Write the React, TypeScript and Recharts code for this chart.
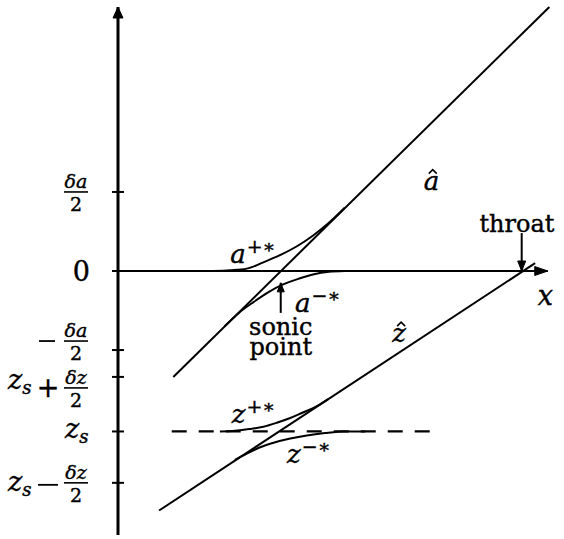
import React from 'react';
import { ComposedChart, Line, Scatter, XAxis, YAxis } from 'recharts';

const WIDTH = 564;
const HEIGHT = 539;
const SERIF = "'DejaVu Serif', 'Liberation Serif', serif";
const INK = '#000';

// Chart units: x runs along the flow, y holds both the a-profile and the z-profile.
const X_DOMAIN: [number, number] = [0, 5.5];
const Y_DOMAIN: [number, number] = [-3.34, 3.34];

// Axes drawn as arrows
const yAxisLine = [{ x: 0, y: -3.34 }, { x: 0, y: 3.34 }];
const xAxisLine = [{ x: 0, y: 0 }, { x: 5.44, y: 0 }];

// Straight asymptotes â and ẑ
const aHat = [{ x: 0.70, y: -1.34 }, { x: 5.46, y: 3.34 }];
const zHat = [{ x: 0.52, y: -3.03 }, { x: 5.28, y: 0.10 }];

// Branches near the sonic point
const aPlus = [
  { x: 1.20, y: 0 }, { x: 1.42, y: 0.01 }, { x: 1.63, y: 0.03 }, { x: 1.84, y: 0.11 },
  { x: 2.05, y: 0.20 }, { x: 2.26, y: 0.31 }, { x: 2.47, y: 0.45 }, { x: 2.67, y: 0.61 },
  { x: 2.87, y: 0.80 },
];
const aMinus = [
  { x: 1.35, y: -0.70 }, { x: 1.53, y: -0.53 }, { x: 1.72, y: -0.39 }, { x: 1.90, y: -0.27 },
  { x: 2.09, y: -0.17 }, { x: 2.28, y: -0.10 }, { x: 2.48, y: -0.04 }, { x: 2.67, y: -0.01 },
  { x: 2.87, y: 0 },
];
const zPlus = [
  { x: 1.29, y: -2.03 }, { x: 1.48, y: -2.02 }, { x: 1.66, y: -2.00 }, { x: 1.84, y: -1.97 },
  { x: 2.01, y: -1.92 }, { x: 2.18, y: -1.86 }, { x: 2.34, y: -1.79 }, { x: 2.50, y: -1.72 },
  { x: 2.66, y: -1.62 },
];
const zMinus = [
  { x: 1.48, y: -2.39 }, { x: 1.63, y: -2.31 }, { x: 1.80, y: -2.23 }, { x: 1.98, y: -2.17 },
  { x: 2.18, y: -2.12 }, { x: 2.39, y: -2.08 }, { x: 2.62, y: -2.05 }, { x: 2.87, y: -2.03 },
  { x: 3.13, y: -2.03 },
];

// Dashed level z = z_s
const zsLevel = [{ x: 0.68, y: -2.03 }, { x: 3.95, y: -2.03 }];

// Pointer arrows
const sonicArrow = [{ x: 2.06, y: -0.53 }, { x: 2.06, y: -0.15 }];
const throatArrow = [{ x: 5.11, y: 0.48 }, { x: 5.11, y: 0 }];

// y-axis ticks and their labels
const yTicks = [1, 0, -1, -1.34, -2.03, -2.68];
const yTickKinds = ['halfA', 'zero', 'minusHalfA', 'zsPlus', 'zs', 'zsMinus'];
const yTickShift = [0, 0, -9, 11, 0, 0];

// Text placed on the plot
const branchLabels = [
  { x: 1.42, y: 0.10, base: 'a', sup: '+∗' },
  { x: 2.24, y: -0.52, base: 'a', sup: '−∗' },
  { x: 1.44, y: -1.92, base: 'z', sup: '+∗' },
  { x: 2.14, y: -2.43, base: 'z', sup: '−∗' },
];
const hatLabels = [
  { x: 3.87, y: 1.03, base: 'a' },
  { x: 3.47, y: -0.90, base: 'z' },
];
const wordLabels = [
  { x: 2.06, y: -0.81, text: 'sonic' },
  { x: 2.06, y: -1.06, text: 'point' },
  { x: 5.05, y: 0.49, text: 'throat' },
];
const axisNames = [{ x: 5.41, y: -0.43, text: 'x' }];

type Dir = 'up' | 'down' | 'right';

function arrowPath(cx: number, cy: number, dir: Dir, len: number, half: number) {
  if (dir === 'up') return `M${cx},${cy} L${cx - half},${cy + len} L${cx + half},${cy + len} Z`;
  if (dir === 'down') return `M${cx},${cy} L${cx - half},${cy - len} L${cx + half},${cy - len} Z`;
  return `M${cx},${cy} L${cx - len},${cy - half} L${cx - len},${cy + half} Z`;
}

function arrowTip(lastIndex: number, dir: Dir, len: number, half: number) {
  return (props: any) => {
    const { cx, cy, index } = props;
    if (index !== lastIndex) return <g key={`n${index}`} />;
    return <path key={`tip${index}`} d={arrowPath(cx, cy, dir, len, half)} fill={INK} stroke={INK} strokeWidth={1} />;
  };
}

// Serif text, slightly thickened with a hairline outline
const serif = { fontFamily: SERIF, stroke: INK, strokeWidth: 0.4 };

function Frac({ cx, cy, num, den }: { cx: number; cy: number; num: string; den: string }) {
  return (
    <g>
      <text x={cx} y={cy - 4} textAnchor="middle" style={serif} fontStyle="italic" fontSize={19} fill={INK}>
        {num}
      </text>
      <line x1={cx - 12} x2={cx + 12} y1={cy} y2={cy} stroke={INK} strokeWidth={1.6} />
      <text x={cx} y={cy + 19} textAnchor="middle" style={serif} fontSize={19} fill={INK}>
        {den}
      </text>
    </g>
  );
}

function Zs({ x, y }: { x: number; y: number }) {
  return (
    <text x={x} y={y} style={serif} fontStyle="italic" fontSize={27} fill={INK}>
      z<tspan fontSize={18} dy={5}>s</tspan>
    </text>
  );
}

function YTick(props: any) {
  const { x, y, index } = props;
  const ax = x;
  const kind = yTickKinds[index];
  const cy = y + yTickShift[index];
  let label: React.ReactNode = null;
  if (kind === 'halfA') {
    label = <Frac cx={ax - 42} cy={cy} num="δa" den="2" />;
  } else if (kind === 'zero') {
    label = (
      <text x={ax - 28} y={cy + 10} textAnchor="end" style={serif} fontSize={27} fill={INK}>0</text>
    );
  } else if (kind === 'minusHalfA') {
    label = (
      <g>
        <line x1={ax - 79} x2={ax - 63} y1={cy} y2={cy} stroke={INK} strokeWidth={1.8} />
        <Frac cx={ax - 42} cy={cy} num="δa" den="2" />
      </g>
    );
  } else if (kind === 'zsPlus') {
    label = (
      <g>
        <Zs x={ax - 110} y={cy + 1} />
        <text x={ax - 70} y={cy + 9} textAnchor="middle" style={serif} fontSize={27} fill={INK}>+</text>
        <Frac cx={ax - 42} cy={cy} num="δz" den="2" />
      </g>
    );
  } else if (kind === 'zs') {
    label = <Zs x={ax - 53} y={cy + 7} />;
  } else {
    label = (
      <g>
        <Zs x={ax - 110} y={cy + 8} />
        <line x1={ax - 80} x2={ax - 60} y1={cy + 2} y2={cy + 2} stroke={INK} strokeWidth={1.8} />
        <Frac cx={ax - 42} cy={cy} num="δz" den="2" />
      </g>
    );
  }
  return (
    <g>
      <line x1={ax - 6} x2={ax + 6} y1={y} y2={y} stroke={INK} strokeWidth={2} />
      {label}
    </g>
  );
}

function BranchLabel(props: any) {
  const { cx, cy, payload } = props;
  return (
    <text x={cx} y={cy} style={serif} fill={INK}>
      <tspan fontStyle="italic" fontSize={26}>{payload.base}</tspan>
      <tspan fontSize={19} dy={-10} dx={1}>{payload.sup}</tspan>
    </text>
  );
}

// Letter with a circumflex accent drawn as a small chevron
function HatLabel(props: any) {
  const { cx, cy, payload } = props;
  const hx = cx + 9;
  const hy = cy - 20;
  return (
    <g>
      <text x={cx} y={cy} style={serif} fontStyle="italic" fontSize={26} fill={INK}>{payload.base}</text>
      <path d={`M${hx - 4},${hy + 4} L${hx},${hy} L${hx + 4},${hy + 4}`} fill="none" stroke={INK} strokeWidth={1.6} />
    </g>
  );
}

function WordLabel(props: any) {
  const { cx, cy, payload } = props;
  return (
    <text x={cx} y={cy} textAnchor="middle" style={serif} fontSize={24} fill={INK}>{payload.text}</text>
  );
}

function AxisName(props: any) {
  const { cx, cy, payload } = props;
  return (
    <text x={cx} y={cy} textAnchor="middle" style={serif} fontStyle="italic" fontSize={27} fill={INK}>{payload.text}</text>
  );
}

export default function App() {
  const line = { stroke: INK, dot: false, isAnimationActive: false, activeDot: false, dataKey: 'y' } as const;
  return (
    <div style={{ position: 'absolute', left: 0, top: 0, width: WIDTH, height: HEIGHT, background: '#fff' }}>
      <ComposedChart width={WIDTH} height={HEIGHT} margin={{ top: 7, right: 11.5, bottom: 4, left: 8 }}>
        <XAxis type="number" dataKey="x" domain={X_DOMAIN} hide />
        <YAxis
          type="number"
          dataKey="y"
          domain={Y_DOMAIN}
          ticks={yTicks}
          interval={0}
          width={110}
          axisLine={false}
          tickLine={false}
          tickSize={0}
          tickMargin={0}
          tick={<YTick />}
        />
        <Line {...line} data={yAxisLine} type="linear" strokeWidth={3} dot={arrowTip(1, 'up', 11, 5)} />
        <Line {...line} data={xAxisLine} type="linear" strokeWidth={2} dot={arrowTip(1, 'right', 13, 4.5)} />
        <Line {...line} data={aHat} type="linear" strokeWidth={2} />
        <Line {...line} data={zHat} type="linear" strokeWidth={2} />
        <Line {...line} data={aPlus} type="monotone" strokeWidth={2} />
        <Line {...line} data={aMinus} type="monotone" strokeWidth={2} />
        <Line {...line} data={zPlus} type="monotone" strokeWidth={2} />
        <Line {...line} data={zMinus} type="monotone" strokeWidth={2} />
        <Line {...line} data={zsLevel} type="linear" strokeWidth={2.2} strokeDasharray="15 12" />
        <Line {...line} data={sonicArrow} type="linear" strokeWidth={2} dot={arrowTip(1, 'up', 9, 3.5)} />
        <Line {...line} data={throatArrow} type="linear" strokeWidth={2} dot={arrowTip(1, 'down', 10, 4)} />
        <Scatter data={branchLabels} dataKey="y" isAnimationActive={false} shape={<BranchLabel />} />
        <Scatter data={hatLabels} dataKey="y" isAnimationActive={false} shape={<HatLabel />} />
        <Scatter data={wordLabels} dataKey="y" isAnimationActive={false} shape={<WordLabel />} />
        <Scatter data={axisNames} dataKey="y" isAnimationActive={false} shape={<AxisName />} />
      </ComposedChart>
    </div>
  );
}
